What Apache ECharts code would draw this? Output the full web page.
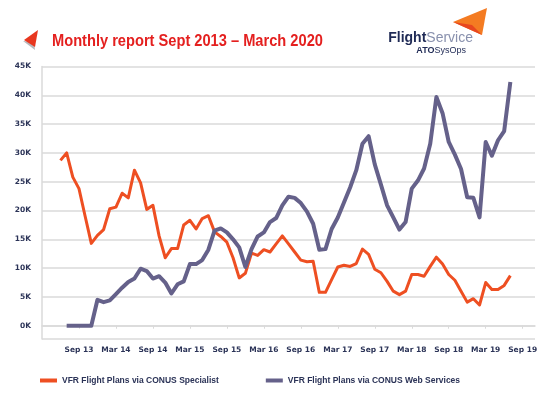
<!DOCTYPE html>
<html>
<head>
<meta charset="utf-8">
<script src="https://cdn.jsdelivr.net/npm/echarts@6/dist/echarts.min.js"></script>
<style>
  html, body { margin: 0; padding: 0; background: #fff; }
  #chart { width: 550px; height: 402px; }
</style>
</head>
<body>
<div id="chart"></div>
<script>
// axis: one category per month, Mar 2013 .. Nov 2019
const monthNames = ['Jan', 'Feb', 'Mar', 'Apr', 'May', 'Jun', 'Jul', 'Aug', 'Sep', 'Oct', 'Nov', 'Dec'];
const firstMonth = { year: 2013, month: 2 };
const monthCount = 81;
const tickLabels = ['Sep 13', 'Mar 14', 'Sep 14', 'Mar 15', 'Sep 15', 'Mar 16', 'Sep 16',
    'Mar 17', 'Sep 17', 'Mar 18', 'Sep 18', 'Mar 19', 'Sep 19'];

// VFR flight plans (thousands) via CONUS Specialist, from Jun 13
const specialistStart = 'Jun 13';
const specialist = [
    28.7, 30.0, 25.8, 23.8, 19.0, 14.3, 15.7, 16.7, 20.3, 20.6,
    23.0, 22.2, 27.0, 24.8, 20.2, 20.9, 15.6, 11.8, 13.4, 13.4,
    17.5, 18.3, 16.8, 18.6, 19.1, 16.3, 15.5, 14.5, 11.8, 8.3,
    9.1, 12.6, 12.2, 13.2, 12.8, 14.2, 15.6, 14.2, 12.8, 11.4,
    11.1, 11.2, 5.8, 5.8, 8.0, 10.2, 10.5, 10.3, 10.8, 13.3,
    12.4, 9.8, 9.2, 7.7, 6.0, 5.4, 6.0, 8.9, 8.9, 8.6,
    10.3, 11.9, 10.7, 8.9, 7.9, 6.0, 4.1, 4.7, 3.6, 7.5,
    6.3, 6.3, 7.0, 8.7
];

// VFR flight plans (thousands) via CONUS Web Services, from Jul 13
const webStart = 'Jul 13';
const webServices = [
    0, 0, 0, 0, 0, 4.5, 4.1, 4.4, 5.5, 6.6,
    7.6, 8.2, 9.9, 9.5, 8.2, 8.6, 7.5, 5.6, 7.2, 7.7,
    10.7, 10.7, 11.4, 13.2, 16.5, 16.9, 16.2, 15.0, 13.6, 10.2,
    13.3, 15.5, 16.2, 18.0, 18.7, 20.9, 22.4, 22.2, 21.3, 19.8,
    17.7, 13.2, 13.3, 16.8, 18.8, 21.4, 24.0, 27.0, 31.6, 32.9,
    28.0, 24.5, 20.9, 18.8, 16.7, 18.0, 23.8, 25.2, 27.3, 31.6,
    39.7, 36.9, 31.9, 29.7, 27.2, 22.3, 22.2, 18.8, 31.9, 29.5,
    32.2, 33.8, 42.3
];

const seriesNames = ['VFR Flight Plans via CONUS Specialist', 'VFR Flight Plans via CONUS Web Services'];

const navy = '#2b3357';
const grid = '#dadada';

const months = [];
for (let i = 0; i < monthCount; i++) {
    const m = firstMonth.month + i;
    const y = firstMonth.year + Math.floor(m / 12);
    months.push(monthNames[m % 12] + ' ' + String(y % 100).padStart(2, '0'));
}

// put a series on the month axis, empty before its first month
const place = (start, values) => {
    const offset = months.indexOf(start);
    return months.map((c, i) => {
        const j = i - offset;
        return j >= 0 && j < values.length ? values[j] : null;
    });
};

const showTick = (index, value) => tickLabels.includes(value);

const chart = echarts.init(document.getElementById('chart'));
chart.setOption({
    animation: false,
    backgroundColor: '#fff',
    grid: { left: 42, right: 15, top: 66.5, bottom: 63 },
    graphic: [
        // red arrow in front of the title
        { type: 'polygon', shape: { points: [[23, 41], [34, 42], [35, 50]] }, style: { fill: '#b8b8bc' } },
        { type: 'polygon', shape: { points: [[24, 40], [38, 30], [35, 47]] }, style: { fill: '#e8371f' } },
        {
            type: 'text', x: 52, y: 34, scaleX: 0.915,
            style: {
                text: 'Monthly report Sept 2013 \u2013 March 2020',
                fill: '#e4201f', font: 'bold 16px "Liberation Sans", Arial, sans-serif'
            }
        },
        // FlightService logo
        { type: 'polygon', shape: { points: [[453, 22], [487, 8], [482, 35]] }, style: { fill: '#f47b22' } },
        { type: 'polygon', shape: { points: [[453, 22], [472, 25], [482, 35]] }, style: { fill: '#e8471f' } },
        {
            type: 'text', right: 77, top: 31,
            style: {
                text: '{b|Flight}{l|Service}',
                rich: {
                    b: { fill: '#1f2a55', font: 'bold 14px "Liberation Sans", Arial, sans-serif' },
                    l: { fill: '#8890ad', font: '14px "Liberation Sans", Arial, sans-serif' }
                }
            }
        },
        {
            type: 'text', right: 84, top: 46,
            style: {
                text: '{b|ATO}{l|SysOps}',
                rich: {
                    b: { fill: '#1f2a55', font: 'bold 9px "Liberation Sans", Arial, sans-serif' },
                    l: { fill: '#1f2a55', font: '9px "Liberation Sans", Arial, sans-serif' }
                }
            }
        }
    ],
    legend: {
        data: seriesNames,
        left: 35,
        top: 371,
        icon: 'rect',
        itemWidth: 17,
        itemHeight: 4,
        itemGap: 47,
        textStyle: { color: navy, fontSize: 8.5, fontWeight: 'bold', fontFamily: '"Liberation Sans", Arial, sans-serif' }
    },
    xAxis: {
        type: 'category',
        data: months,
        boundaryGap: false,
        axisLine: { lineStyle: { color: grid, width: 1.5 } },
        axisTick: { interval: showTick, length: 3, lineStyle: { color: grid } },
        axisLabel: {
            interval: showTick,
            color: navy, fontSize: 7.5, fontWeight: 'bold', fontFamily: '"DejaVu Sans", sans-serif',
            margin: 7
        },
        splitLine: { show: false }
    },
    yAxis: {
        type: 'value',
        min: -2.3,
        max: 45,
        splitNumber: 9,
        axisLine: { show: true, lineStyle: { color: grid, width: 1.5 } },
        axisTick: { show: false },
        axisLabel: {
            color: navy, fontSize: 7.5, fontWeight: 'bold', fontFamily: '"DejaVu Sans", sans-serif',
            margin: 11,
            formatter: (v) => (v < 0 ? '' : v + 'K')
        },
        splitLine: { lineStyle: { color: grid, width: 1.5 } }
    },
    series: [
        {
            name: seriesNames[0],
            type: 'line',
            data: place(specialistStart, specialist),
            showSymbol: false,
            color: '#ee4f22',
            lineStyle: { width: 3, join: 'round' }
        },
        {
            name: seriesNames[1],
            type: 'line',
            data: place(webStart, webServices),
            showSymbol: false,
            color: '#65618a',
            lineStyle: { width: 4, join: 'round' }
        }
    ]
});
</script>
</body>
</html>
